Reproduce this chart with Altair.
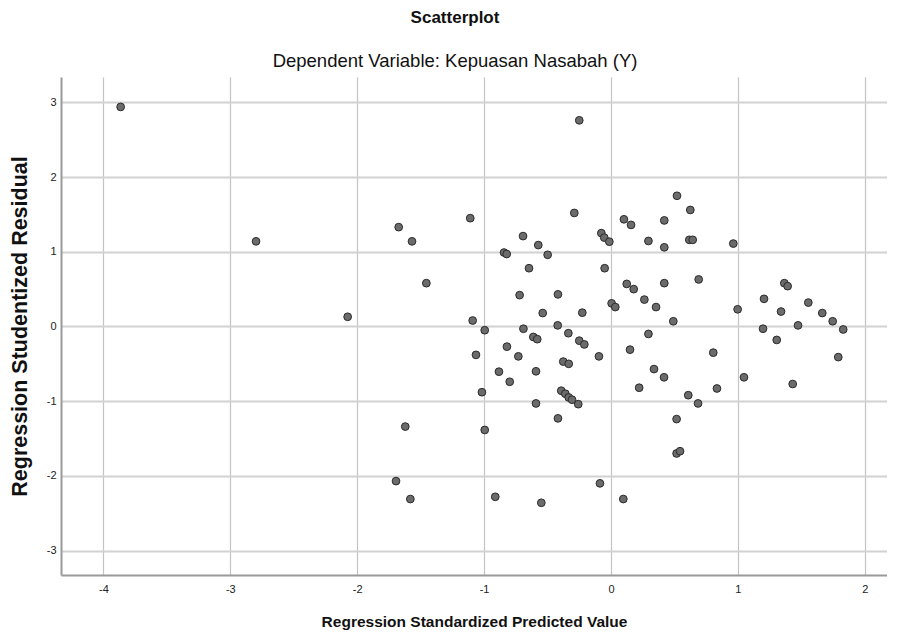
import altair as alt
import pandas as pd

# Regression Standardized Predicted Value (x) and Studentized Residual (y)
pred = [
    -3.864, -2.797, -2.075, -0.250, -1.673, -1.568, -1.455, -1.109, -0.289, -0.693,
    -0.573, -0.499, -0.843, -0.822, -0.646, -0.720, -0.418, -0.538, -0.226, -1.090,
    -0.995, -0.690, -0.420, -0.336, -0.612, -0.581, -0.250, -0.210, -0.820, -0.076,
    -0.053, -0.013, 0.102, 0.158, -0.050, 0.124, 0.179, 0.263, 0.005, 0.034,
    0.295, 0.295, 0.520, 0.625, 0.420, 0.420, 0.617, 0.644, 0.964, 0.420,
    0.691, 0.355, 0.491, 0.998, 1.366, 1.392, 1.206, 1.340, 1.555, 1.665,
    1.747, 1.830, 1.198, 1.474, 1.306, 0.150, -1.064, -0.730, -0.591, -0.883,
    -0.798, -0.376, -0.333, -0.095, 0.222, -1.017, -0.392, -0.360, -0.333, -0.307,
    -0.258, -0.591, -0.418, -1.621, -0.995, -1.694, -1.581, -0.912, -0.549, -0.087,
    0.097, 1.791, 0.806, 0.339, 0.418, 1.048, 1.432, 0.835, 0.609, 0.686,
    0.517, 0.517, 0.544,
]
resid = [
    2.94, 1.14, 0.13, 2.76, 1.33, 1.14, 0.58, 1.45, 1.52, 1.21,
    1.09, 0.96, 0.99, 0.97, 0.78, 0.42, 0.43, 0.18, 0.185, 0.08,
    -0.05, -0.03, 0.015, -0.09, -0.14, -0.17, -0.19, -0.24, -0.27, 1.25,
    1.19, 1.135, 1.435, 1.36, 0.78, 0.57, 0.50, 0.36, 0.31, 0.26,
    1.145, -0.10, 1.75, 1.56, 1.42, 1.06, 1.16, 1.16, 1.11, 0.58,
    0.63, 0.26, 0.07, 0.23, 0.58, 0.54, 0.37, 0.20, 0.32, 0.18,
    0.07, -0.04, -0.03, 0.015, -0.18, -0.31, -0.38, -0.40, -0.60, -0.605,
    -0.74, -0.47, -0.50, -0.40, -0.82, -0.88, -0.86, -0.90, -0.95, -0.98,
    -1.04, -1.03, -1.23, -1.34, -1.385, -2.07, -2.31, -2.28, -2.36, -2.10,
    -2.31, -0.41, -0.35, -0.57, -0.68, -0.68, -0.77, -0.83, -0.92, -1.03,
    -1.24, -1.70, -1.67,
]

x_ticks = [-4, -3, -2, -1, 0, 1, 2]
y_ticks = [-3, -2, -1, 0, 1, 2, 3]

df = pd.DataFrame({"pred": pred, "resid": resid})

FONT = "Liberation Sans"

chart = (
    alt.Chart(df)
    .mark_point(filled=True, fill="#6b6b6b", stroke="#2b2b2b", strokeWidth=1,
                size=60, opacity=1, shape="circle")
    .encode(
        x=alt.X("pred:Q",
                scale=alt.Scale(domain=[-4.334, 2.175], nice=False, zero=False),
                axis=alt.Axis(values=x_ticks, labelExpr="'' + datum.value",
                              title="Regression Standardized Predicted Value",
                              titleFont=FONT, titleFontSize=15.5, titleFontWeight="bold",
                              titleColor="#111", titleBaseline="middle", titleY=46,
                              labelFont=FONT, labelFontSize=11, labelColor="#222",
                              labelPadding=8, ticks=False,
                              domainColor="#9a9a9a", domainWidth=2,
                              gridColor="#c4c4c4", gridWidth=1.2)),
        y=alt.Y("resid:Q",
                scale=alt.Scale(domain=[-3.327, 3.34], nice=False, zero=False),
                axis=alt.Axis(values=y_ticks, labelExpr="'' + datum.value",
                              title="Regression Studentized Residual",
                              titleFont=FONT, titleFontSize=21.5, titleFontWeight="bold",
                              titleColor="#111", titleBaseline="middle", titleAngle=-90,
                              titleX=-41, titleY=249,
                              labelFont=FONT, labelFontSize=11, labelColor="#222",
                              labelPadding=5, ticks=False,
                              domainColor="#9a9a9a", domainWidth=2,
                              gridColor="#d2d2d2", gridWidth=2)),
    )
    .properties(
        width=826,
        height=498,
        padding={"left": 53, "top": 69, "right": 0, "bottom": 58},
        autosize=alt.AutoSizeParams(type="none"),
        title=alt.TitleParams(
            text="Scatterplot",
            subtitle="Dependent Variable: Kepuasan Nasabah (Y)",
            font=FONT, fontSize=17, fontWeight="bold", color="#111",
            subtitleFont=FONT, subtitleFontSize=18.5, subtitleColor="#111",
            subtitlePadding=25, offset=6, anchor="middle", frame="group", dx=-19,
        ),
    )
    .configure_view(stroke=None)
)

chart.save("out.html", embed_options={"renderer": "svg", "actions": False})
